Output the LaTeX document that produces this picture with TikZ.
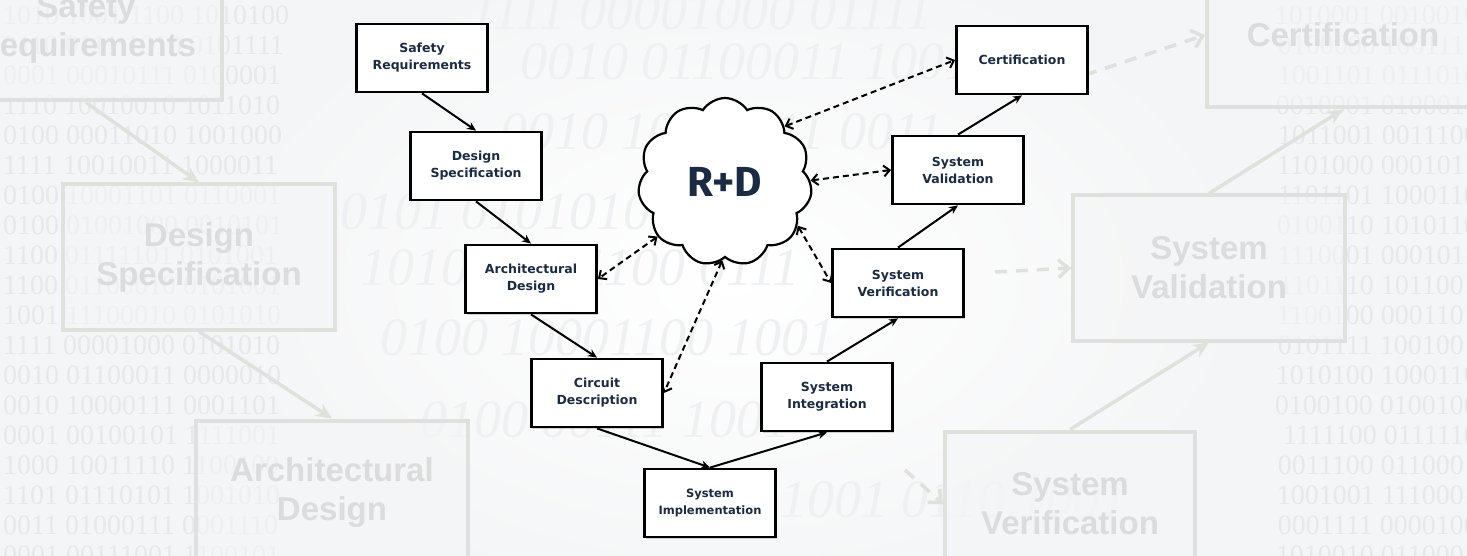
\documentclass[tikz,border=0pt]{standalone}
\usepackage{fontspec}
\setsansfont{DejaVu Sans}
\newfontfamily\rdfont{Fira Sans}
\newfontfamily\ghostfont{Liberation Sans}
\newfontfamily\bitfont{Liberation Serif}
\usetikzlibrary{arrows.meta,shapes.symbols,shadows}
\definecolor{navy}{HTML}{1C2B44}
\definecolor{bgc}{HTML}{F4F5F6}
\definecolor{bits}{HTML}{E6E8EA}
\definecolor{bitsfaint}{HTML}{EFF0F2}
\definecolor{ghost}{HTML}{E0E0DD}
\definecolor{ghosttext}{HTML}{DCDCDC}
\tikzset{
  stage/.style={draw=black, line width=2.8pt, fill=white, minimum width=131pt, minimum height=68pt,
    align=center, text=navy, font=\fontsize{12.5}{17}\selectfont\sffamily\bfseries,
    drop shadow={shadow xshift=1.5pt, shadow yshift=-1.5pt, opacity=0.35}},
  flow/.style={line width=2pt, -{Stealth[length=9pt,width=8pt]}},
  link/.style={line width=2pt, dash pattern=on 6pt off 4pt,
    {Straight Barb[length=6pt,width=11pt]}-{Straight Barb[length=6pt,width=11pt]}},
  ghostbox/.style={draw=ghost, line width=4pt, fill=bgc, fill opacity=0.6, text opacity=1,
    minimum width=272pt, minimum height=145pt, align=center, text=ghosttext,
    font=\fontsize{33}{39}\selectfont\ghostfont\bfseries},
  ghostflow/.style={draw=ghost, line width=3.5pt, -{Stealth[length=16pt,width=14pt]}},
  ghostlink/.style={draw=ghost, line width=3.5pt, dash pattern=on 12pt off 9pt, -{Straight Barb[length=10pt,width=18pt]}},
  bitrow/.style={text=bits, font=\fontsize{28}{30}\selectfont\bitfont, inner sep=0pt},
  bigbits/.style={anchor=west, text=bitsfaint, font=\fontsize{54}{54}\selectfont\bitfont\itshape, inner sep=0pt},
}
\begin{document}
\begin{tikzpicture}[x=1pt,y=-1pt]
\useasboundingbox (0,0) rectangle (1467,556);
\clip (0,0) rectangle (1467,556);
\fill[bgc] (0,0) rectangle (1467,556);
\shade[inner color=white, outer color=bgc] (733,280) ellipse (520 and 330);
\foreach \row [count=\i from 0] in {1010 1001 1100 1010100, 0110 0111 1010 0101111, 0001 00010111 0100001,
  1110 10010010 1011010, 0100 00011010 1001000, 1111 10010011 1000011, 0100 10001101 0110001,
  0100 01001000 0010101, 1100 01111101 0101001, 1100 01100010 0101001, 1001 11100010 0101010,
  1111 00001000 0101010, 0010 01100011 0000010, 0010 10000111 0001101, 0001 00100101 1111001,
  1000 10011110 1100100, 1101 01110101 1001010, 0011 01000111 0001110, 0001 00111001 1100101}
  \node[bitrow, anchor=west] (bl\i) at (3,15+30*\i) {\row};
\foreach \row [count=\i from 0] in {1010001 0010010, 0100000 1001111, 1001101 0111010, 0010001 0100011,
  1011001 0011100, 1101000 0001011, 1101101 1000110, 0100110 1010110, 1110001 0001011,
  1101110 1011001, 1100100 0001101, 0101111 1001001, 1010100 1000110, 0100100 0100100,
  1111100 0111110, 0011100 0110001, 1001001 1110001, 0001111 0000100, 1010010 0110001}
  \node[bitrow, anchor=east] (br\i) at (1478,15+30*\i) {\row};
\node[bigbits] (bc1) at (470,12) {1111 00001000 01111};
\node[bigbits] (bc2) at (520,62) {0010 01100011 1001};
\node[bigbits] (bc3) at (500,132) {0010 10001111 0011};
\node[bigbits] (bc4) at (340,212) {0101 01010101 0101};
\node[bigbits] (bc5) at (360,268) {1010 11101100 0111};
\node[bigbits] (bc6) at (380,338) {0100 10001100 1001};
\node[bigbits] (bc7) at (420,420) {0100 00111 1001};
\node[bigbits] (bc8) at (780,500) {1001 0110 1001};
\node[ghostbox] (gsr) at (86,28) {Safety\\Requirements};
\node[ghostbox] (gds) at (199,257) {Design\\Specification};
\node[ghostbox] (gad) at (332,493) {Architectural\\Design};
\node[ghostbox] (gct) at (1343,35) {Certification};
\node[ghostbox] (gvl) at (1209,268) {System\\Validation};
\node[ghostbox, minimum width=250pt] (gvf) at (1070,504) {System\\Verification};
\coordinate (gq1) at (1085,75);
\coordinate (gq2) at (995,272);
\coordinate (gq3) at (905,470);
\draw[ghostflow] (gsr.south) -- (gds.north);
\draw[ghostflow] (gds.south) -- (gad.north);
\draw[ghostflow] (gvf.north) -- (gvl.south);
\draw[ghostflow] (gvl.north) -- (gct.south);
\draw[ghostlink] (gq1) -- (gct.west);
\draw[ghostlink] (gq2) -- (gvl.west);
\draw[ghostlink] (gq3) -- (gvf.west);
\node[stage] (sr) at (422,58) {Safety\\Requirements};
\node[stage] (ds) at (476,166) {Design\\Specification};
\node[stage] (ad) at (531,279) {Architectural\\Design};
\node[stage] (cd) at (597,393) {Circuit\\Description};
\node[stage, font=\fontsize{11.5}{17}\selectfont\sffamily\bfseries] (si) at (710,503) {System\\Implementation};
\node[stage] (sg) at (827,397) {System\\Integration};
\node[stage] (sv) at (898,283) {System\\Verification};
\node[stage] (sl) at (958,170) {System\\Validation};
\node[stage] (ct) at (1022,60) {Certification};
\node[cloud, draw, line width=2.2pt, fill=white, cloud puffs=11, cloud puff arc=115, aspect=1.03,
  minimum width=174pt, minimum height=168pt, inner sep=0pt, text=navy,
  font=\fontsize{42}{42}\selectfont\rdfont\bfseries] (rd) at (725,182) {R+D};
\draw[flow] (sr.south) -- (ds.north);
\draw[flow] (ds.south) -- (ad.north);
\draw[flow] (ad.south) -- (cd.north);
\draw[flow] (cd.south) -- (si.north);
\draw[flow] (si.north) -- (sg.south);
\draw[flow] (sg.north) -- (sv.south);
\draw[flow] (sv.north) -- (sl.south);
\draw[flow] (sl.north) -- (ct.south);
\draw[link] (rd.43) -- (ct.west);
\draw[link] (rd.1) -- (sl.west);
\draw[link] (rd.-31) -- (sv.west);
\draw[link] (rd.219) -- (ad.east);
\draw[link] (rd.268) -- (cd.east);
\end{tikzpicture}
\end{document}
